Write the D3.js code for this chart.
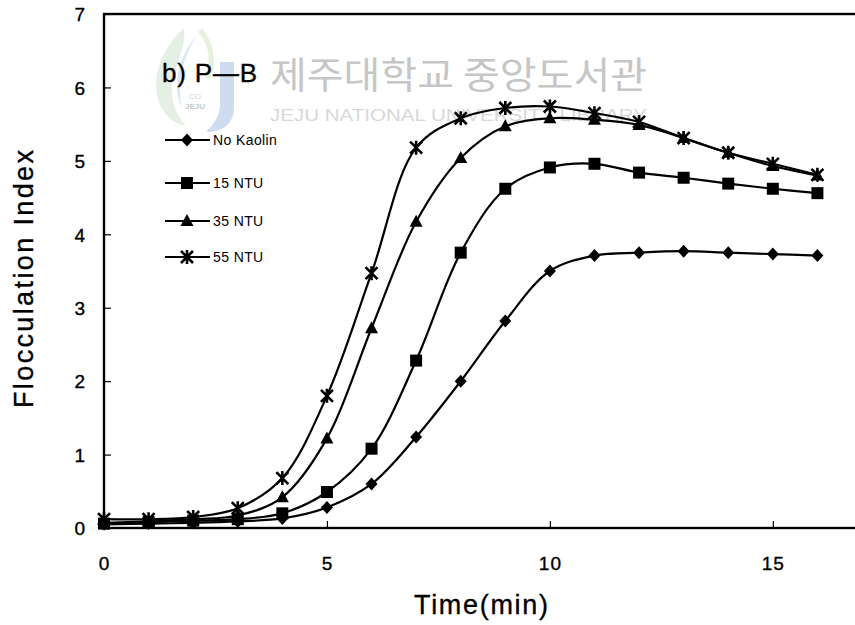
<!DOCTYPE html>
<html>
<head>
<meta charset="utf-8">
<script src="https://cdn.jsdelivr.net/npm/d3@7/dist/d3.min.js"></script>
<style>
  html, body { margin: 0; padding: 0; background: #fff; }
  svg { display: block; }
  text { font-family: "Liberation Sans", Arial, sans-serif; fill: #000; }
  .dark { stroke: #000; stroke-width: 0.35px; }
</style>
</head>
<body>
<svg id="chart" width="855" height="625"></svg>
<script>
// Sampling times (min)
const times = [0, 1, 2, 3, 4, 5, 6, 7, 8, 9, 10, 11, 12, 13, 14, 15, 16];

// Flocculation index for each kaolin turbidity
const noKaolin = [0.05, 0.06, 0.07, 0.09, 0.13, 0.28, 0.60, 1.24, 2.00, 2.82, 3.50, 3.71, 3.75, 3.77, 3.75, 3.73, 3.71];
const ntu15    = [0.06, 0.08, 0.10, 0.12, 0.20, 0.49, 1.08, 2.28, 3.75, 4.62, 4.91, 4.96, 4.84, 4.77, 4.69, 4.62, 4.56];
const ntu35    = [0.07, 0.09, 0.12, 0.17, 0.42, 1.22, 2.72, 4.17, 5.04, 5.47, 5.58, 5.56, 5.49, 5.31, 5.11, 4.93, 4.80];
const ntu55    = [0.12, 0.12, 0.15, 0.27, 0.68, 1.80, 3.47, 5.18, 5.58, 5.72, 5.74, 5.65, 5.53, 5.31, 5.11, 4.96, 4.81];

const seriesNames = ["No Kaolin", "15 NTU", "35 NTU", "55 NTU"];
const seriesValues = [noKaolin, ntu15, ntu35, ntu55];
const markerKinds = ["diamond", "square", "triangle", "asterisk"];

const xTicks = [0, 5, 10, 15];
const yTicks = [0, 1, 2, 3, 4, 5, 6, 7];

const svg = d3.select("#chart");
const plotLeft = 104, plotRight = 862, plotTop = 14, plotBottom = 528;

const x = d3.scaleLinear().domain([0, 17]).range([plotLeft, plotRight]);
const y = d3.scaleLinear().domain([0, 7]).range([plotBottom, plotTop]);

// Faint library watermark behind the plot
const wm = svg.append("g").attr("class", "watermark");
wm.append("path")
  .attr("d", "M184,28 C160,50 150,80 160,105 C166,118 176,124 186,126 C172,110 168,90 176,68 C180,55 186,42 184,28 Z")
  .attr("fill", "#cfe3cf").attr("opacity", 0.55);
wm.append("path")
  .attr("d", "M196,36 C178,58 172,86 182,108 C176,84 182,60 196,36 Z")
  .attr("fill", "#bcd6ec").attr("opacity", 0.6);
wm.append("path")
  .attr("d", "M220,62 L234,62 L234,108 C234,124 222,132 206,132 C214,124 220,116 220,104 Z")
  .attr("fill", "#b8cfe8").attr("opacity", 0.7);
wm.append("path")
  .attr("d", "M200,30 C212,44 214,60 208,78")
  .attr("fill", "none").attr("stroke", "#d4e6c6").attr("stroke-width", 5).attr("opacity", 0.6);
wm.append("text").attr("x", 195).attr("y", 109).attr("text-anchor", "middle")
  .style("font-size", "8px").style("font-weight", "bold").style("fill", "#c9c9c9").text("JEJU");
wm.append("text").attr("x", 195).attr("y", 99).attr("text-anchor", "middle")
  .style("font-size", "8px").style("fill", "#d2d2d2").text("CO");
wm.append("text")
  .attr("x", 270).attr("y", 89)
  .attr("textLength", 377).attr("lengthAdjust", "spacingAndGlyphs")
  .style("font-family", "'Noto Sans CJK KR', sans-serif")
  .style("font-size", "37px").style("fill", "#c6c6c6")
  .text("제주대학교 중앙도서관");
wm.append("text")
  .attr("x", 270).attr("y", 121)
  .attr("textLength", 377).attr("lengthAdjust", "spacingAndGlyphs")
  .style("font-size", "16px").style("fill", "#d8d8d8")
  .text("JEJU NATIONAL UNIVERSITY LIBRARY");

// Plot frame
svg.append("rect")
  .attr("x", plotLeft).attr("y", plotTop)
  .attr("width", plotRight - plotLeft).attr("height", plotBottom - plotTop)
  .attr("fill", "none").attr("stroke", "#000").attr("stroke-width", 2.4);

// Axes with inward ticks
const yAxis = d3.axisRight(y).tickValues(yTicks).tickSize(7).tickFormat(d3.format("d"));
const gy = svg.append("g").attr("transform", `translate(${plotLeft},0)`).call(yAxis);
gy.select(".domain").remove();
gy.selectAll(".tick line").attr("stroke", "#000").attr("stroke-width", 1.2);
gy.selectAll(".tick text")
  .attr("x", -19).attr("dy", "0.36em").attr("text-anchor", "end")
  .attr("class", "dark")
  .style("font-size", "19px").style("font-family", "'Liberation Sans', Arial, sans-serif");

const xAxis = d3.axisTop(x).tickValues(xTicks).tickSize(7).tickFormat(d3.format("d"));
const gx = svg.append("g").attr("transform", `translate(0,${plotBottom})`).call(xAxis);
gx.select(".domain").remove();
gx.selectAll(".tick line").attr("stroke", "#000").attr("stroke-width", 1.2);
gx.selectAll(".tick text")
  .attr("y", 42).attr("dy", 0).attr("text-anchor", "middle")
  .attr("class", "dark")
  .style("font-size", "19px").style("letter-spacing", "1px")
  .style("font-family", "'Liberation Sans', Arial, sans-serif");

// Axis titles
svg.append("text")
  .attr("class", "dark")
  .attr("x", 481).attr("y", 614).attr("text-anchor", "middle")
  .attr("textLength", 134).attr("lengthAdjust", "spacing")
  .style("font-size", "27px")
  .text("Time(min)");
svg.append("text")
  .attr("class", "dark")
  .attr("transform", "translate(33,279) rotate(-90)")
  .attr("text-anchor", "middle")
  .attr("textLength", 258).attr("lengthAdjust", "spacing")
  .style("font-size", "27px")
  .text("Flocculation Index");

// Panel label
svg.append("text")
  .attr("class", "dark")
  .attr("x", 162).attr("y", 82)
  .style("font-size", "26px").style("letter-spacing", "0.8px")
  .text("b) P\u2014B");

// Marker drawing
function drawMarker(g, kind, cx, cy) {
  if (kind === "diamond") {
    g.append("path").attr("d", `M${cx},${cy - 6.5}L${cx + 6},${cy}L${cx},${cy + 6.5}L${cx - 6},${cy}Z`).attr("fill", "#000");
  } else if (kind === "square") {
    g.append("rect").attr("x", cx - 6).attr("y", cy - 6).attr("width", 12).attr("height", 12).attr("fill", "#000");
  } else if (kind === "triangle") {
    g.append("path").attr("d", `M${cx},${cy - 7}L${cx + 6.5},${cy + 5}L${cx - 6.5},${cy + 5}Z`).attr("fill", "#000");
  } else {
    g.append("path")
      .attr("d", `M${cx - 6},${cy - 6}L${cx + 6},${cy + 6}M${cx + 6},${cy - 6}L${cx - 6},${cy + 6}M${cx},${cy - 7}L${cx},${cy + 7}`)
      .attr("stroke", "#000").attr("stroke-width", 2.6).attr("fill", "none");
  }
}

const line = d3.line()
  .x((d, i) => x(times[i]))
  .y(d => y(d))
  .curve(d3.curveCatmullRom.alpha(0.5));

const plot = svg.append("g");
seriesValues.forEach((vals, s) => {
  plot.append("path")
    .attr("d", line(vals))
    .attr("fill", "none").attr("stroke", "#000").attr("stroke-width", 2.2);
});
seriesValues.forEach((vals, s) => {
  const g = plot.append("g");
  vals.forEach((v, i) => drawMarker(g, markerKinds[s], x(times[i]), y(v)));
});

// Legend
const legendRows = [140, 183, 221, 257];
const legend = svg.append("g");
seriesNames.forEach((name, s) => {
  const ly = legendRows[s];
  legend.append("line").attr("x1", 165).attr("x2", 210).attr("y1", ly).attr("y2", ly)
    .attr("stroke", "#000").attr("stroke-width", 2);
  drawMarker(legend, markerKinds[s], 187, ly);
  legend.append("text").attr("x", 213).attr("y", ly).attr("dy", "0.36em")
    .style("font-size", "14px").style("letter-spacing", "0.4px")
    .text(name);
});
</script>
</body>
</html>
